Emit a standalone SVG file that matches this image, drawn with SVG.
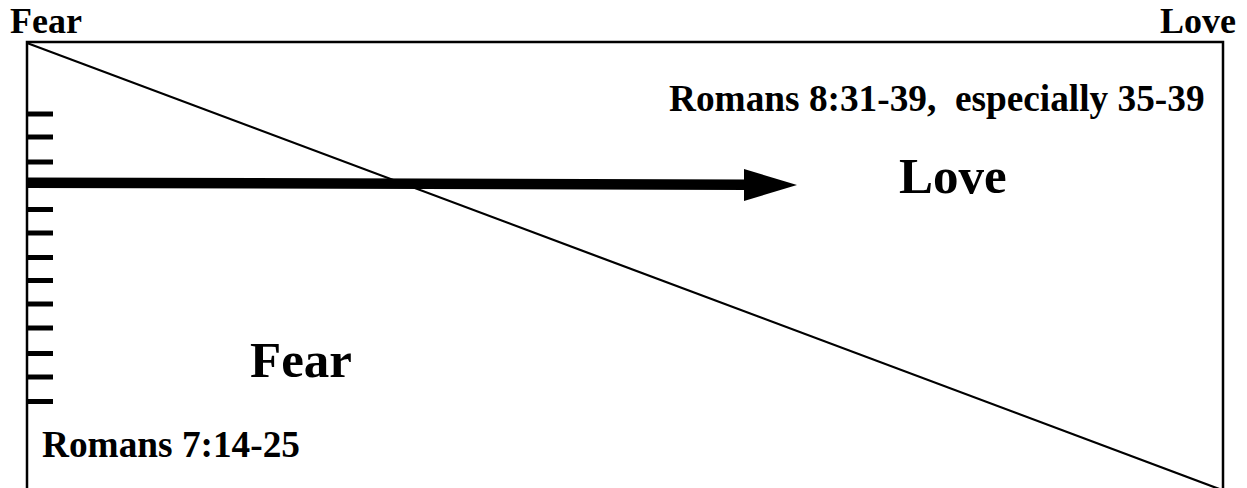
<svg xmlns="http://www.w3.org/2000/svg" width="1247" height="488" viewBox="0 0 1247 488">
<style>
text{font-family:"Liberation Serif","Times New Roman",serif;font-weight:bold;fill:#000}
.s{font-size:37.3px}
.t{font-size:36px}
.b{font-size:51px}
.tick{stroke:#000;stroke-width:5}
</style>
<rect width="1247" height="488" fill="#fff"/>
<g id="frame">
<polyline points="27,500 27,42 1223,42 1223,500" fill="none" stroke="#000" stroke-width="2.5"/>
</g>
<g id="diagonal">
<line x1="27" y1="43" x2="1222" y2="490" stroke="#000" stroke-width="2.2"/>
</g>
<g id="scale">
<line class="tick" x1="27" y1="114" x2="53" y2="114"/>
<line class="tick" x1="27" y1="137" x2="53" y2="137"/>
<line class="tick" x1="27" y1="162" x2="53" y2="162"/>
<line class="tick" x1="27" y1="209.5" x2="53" y2="209.5"/>
<line class="tick" x1="27" y1="233" x2="53" y2="233"/>
<line class="tick" x1="27" y1="257.5" x2="53" y2="257.5"/>
<line class="tick" x1="27" y1="280.5" x2="53" y2="280.5"/>
<line class="tick" x1="27" y1="304" x2="53" y2="304"/>
<line class="tick" x1="27" y1="328" x2="53" y2="328"/>
<line class="tick" x1="27" y1="353.5" x2="53" y2="353.5"/>
<line class="tick" x1="27" y1="377" x2="53" y2="377"/>
<line class="tick" x1="27" y1="401.5" x2="53" y2="401.5"/>
</g>
<g id="connectors">
<line x1="27" y1="182.7" x2="746" y2="184.7" stroke="#000" stroke-width="10.5"/>
<polygon points="744,169 797,185 744,201" fill="#000"/>
</g>
<g id="labels">
<text class="t" x="10" y="33">Fear</text>
<text class="t" x="1236" y="33" text-anchor="end">Love</text>
<text class="s" x="669" y="111" xml:space="preserve">Romans 8:31-39,  especially 35-39</text>
<text class="b" x="899" y="193">Love</text>
<text class="b" x="250" y="377">Fear</text>
<text class="s" x="42" y="457">Romans 7:14-25</text>
</g>
</svg>
